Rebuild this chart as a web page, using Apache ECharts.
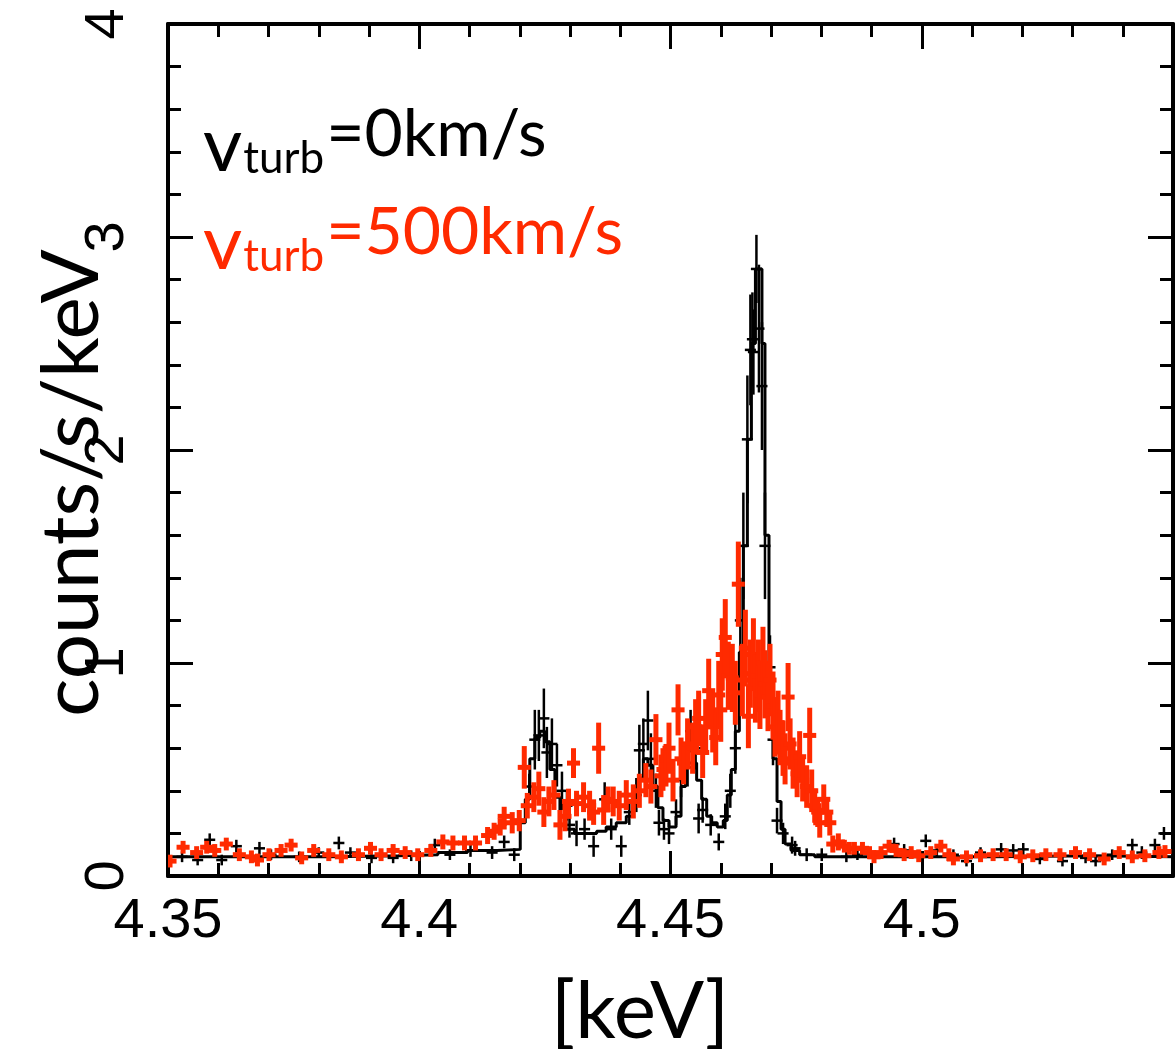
<!DOCTYPE html>
<html>
<head>
<meta charset="utf-8">
<script src="https://cdn.jsdelivr.net/npm/echarts@6/dist/echarts.min.js"></script>
<style>
html,body{margin:0;padding:0;background:#fff;}
#chart{width:1176px;height:1049px;}
</style>
</head>
<body>
<div id="chart"></div>
<script>
// ---- data (energy in keV, counts/s/keV) ----
const xTicks = [4.35, 4.4, 4.45, 4.5];
const yTicks = [0, 1, 2, 3, 4];

// black model (v_turb = 0), step histogram: left bin edges and values
const modelE = [4.3500,4.3662,4.3820,4.3958,4.4037,4.4096,4.4155,4.4201,4.4211,4.4220,4.4230,4.4240,4.4250,4.4260,4.4270,4.4280,4.4292,4.4309,4.4333,4.4353,4.4372,4.4392,4.4412,4.4426,4.4436,4.4446,4.4455,4.4465,4.4475,4.4485,4.4497,4.4511,4.4521,4.4530,4.4542,4.4552,4.4562,4.4572,4.4582,4.4593,4.4605,4.4613,4.4621,4.4629,4.4637,4.4645,4.4653,4.4661,4.4669,4.4676,4.4682,4.4688,4.4696,4.4704,4.4712,4.4720,4.4728,4.4740,4.4757,4.4787,4.4945,4.5142,4.5340,4.5500];
const modelV = [0.09,0.09,0.095,0.10,0.11,0.12,0.125,0.25,0.36,0.55,0.65,0.68,0.63,0.50,0.37,0.28,0.22,0.20,0.20,0.21,0.23,0.25,0.28,0.34,0.46,0.55,0.52,0.42,0.32,0.26,0.23,0.28,0.42,0.53,0.53,0.45,0.36,0.28,0.25,0.23,0.26,0.38,0.50,0.68,1.05,1.55,2.05,2.50,2.85,2.85,2.50,1.60,0.95,0.55,0.35,0.22,0.15,0.12,0.10,0.09,0.09,0.095,0.09,0.09];

// black data points (v_turb = 0)
const blackE = [4.3528,4.3559,4.3583,4.3607,4.3636,4.3682,4.3705,4.3761,4.3800,4.3840,4.3863,4.3905,4.3948,4.3984,4.4031,4.4061,4.4102,4.4145,4.4169,4.4189,4.4219,4.4230,4.4238,4.4248,4.4254,4.4264,4.4274,4.4284,4.4294,4.4299,4.4313,4.4329,4.4347,4.4369,4.4382,4.4402,4.4418,4.4432,4.4438,4.4446,4.4455,4.4461,4.4471,4.4477,4.4487,4.4497,4.4511,4.4521,4.4534,4.4540,4.4550,4.4556,4.4564,4.4580,4.4596,4.4609,4.4619,4.4629,4.4639,4.4645,4.4653,4.4659,4.4663,4.4665,4.4671,4.4676,4.4682,4.4688,4.4698,4.4704,4.4712,4.4724,4.4742,4.4748,4.4771,4.4801,4.4850,4.4872,4.4905,4.4945,4.4965,4.5008,4.5030,4.5063,4.5089,4.5117,4.5158,4.5182,4.5202,4.5235,4.5280,4.5326,4.5346,4.5379,4.5419,4.5438,4.5464,4.5482];
const blackV = [0.09,0.075,0.17,0.075,0.14,0.13,0.10,0.09,0.11,0.155,0.11,0.085,0.085,0.095,0.145,0.10,0.12,0.11,0.16,0.10,0.42,0.64,0.66,0.74,0.58,0.62,0.52,0.40,0.33,0.24,0.20,0.22,0.14,0.36,0.22,0.14,0.30,0.38,0.59,0.62,0.73,0.55,0.40,0.25,0.22,0.20,0.30,0.45,0.51,0.68,0.60,0.27,0.31,0.24,0.16,0.28,0.40,0.60,1.20,1.55,2.05,2.47,2.52,2.46,2.85,2.57,2.30,1.55,0.98,0.64,0.26,0.20,0.145,0.13,0.10,0.10,0.09,0.10,0.09,0.15,0.12,0.165,0.12,0.10,0.07,0.11,0.125,0.12,0.125,0.08,0.07,0.085,0.07,0.10,0.145,0.11,0.145,0.20];
const blackErr = [0.025,0.025,0.03,0.025,0.03,0.03,0.025,0.025,0.025,0.03,0.025,0.025,0.025,0.025,0.03,0.025,0.03,0.03,0.03,0.03,0.06,0.14,0.12,0.14,0.12,0.12,0.10,0.09,0.07,0.06,0.06,0.05,0.05,0.08,0.05,0.05,0.06,0.08,0.12,0.12,0.14,0.12,0.08,0.06,0.05,0.05,0.06,0.08,0.09,0.10,0.10,0.07,0.06,0.05,0.04,0.06,0.08,0.12,0.20,0.25,0.30,0.26,0.22,0.20,0.16,0.30,0.30,0.25,0.15,0.12,0.06,0.05,0.04,0.035,0.03,0.03,0.025,0.025,0.025,0.03,0.03,0.03,0.03,0.025,0.025,0.025,0.03,0.03,0.03,0.025,0.025,0.025,0.025,0.025,0.03,0.03,0.03,0.03];

// red data points (v_turb = 500 km/s)
const redE = [4.3504,4.3530,4.3557,4.3577,4.3593,4.3616,4.3642,4.3666,4.3678,4.3701,4.3725,4.3745,4.3766,4.3790,4.3820,4.3845,4.3879,4.3903,4.3924,4.3948,4.3972,4.3997,4.4023,4.4047,4.4067,4.4090,4.4112,4.4136,4.4149,4.4161,4.4169,4.4185,4.4199,4.4209,4.4215,4.4228,4.4238,4.4248,4.4258,4.4268,4.4280,4.4290,4.4297,4.4307,4.4313,4.4327,4.4339,4.4347,4.4357,4.4367,4.4376,4.4386,4.4398,4.4412,4.4426,4.4438,4.4451,4.4461,4.4471,4.4481,4.4485,4.4491,4.4497,4.4505,4.4515,4.4521,4.4526,4.4534,4.4544,4.4550,4.4556,4.4564,4.4570,4.4576,4.4584,4.4590,4.4596,4.4600,4.4603,4.4609,4.4615,4.4623,4.4629,4.4635,4.4643,4.4649,4.4655,4.4659,4.4665,4.4669,4.4675,4.4678,4.4684,4.4688,4.4694,4.4698,4.4704,4.4708,4.4714,4.4718,4.4724,4.4728,4.4734,4.4738,4.4744,4.4752,4.4757,4.4763,4.4771,4.4777,4.4781,4.4787,4.4793,4.4797,4.4805,4.4811,4.4817,4.4823,4.4834,4.4846,4.4856,4.4866,4.4882,4.4896,4.4905,4.4919,4.4935,4.4949,4.4965,4.4979,4.4994,4.5018,4.5038,4.5054,4.5063,4.5089,4.5117,4.5142,4.5168,4.5196,4.5221,4.5247,4.5275,4.5306,4.5334,4.5363,4.5393,4.5419,4.5444,4.5472,4.5484];
const redV = [0.07,0.135,0.11,0.135,0.12,0.15,0.10,0.09,0.075,0.10,0.12,0.145,0.085,0.12,0.10,0.09,0.10,0.13,0.10,0.12,0.11,0.10,0.12,0.16,0.155,0.155,0.155,0.19,0.21,0.23,0.28,0.25,0.26,0.51,0.33,0.37,0.41,0.30,0.35,0.38,0.24,0.28,0.35,0.53,0.34,0.37,0.33,0.30,0.60,0.31,0.36,0.35,0.33,0.38,0.35,0.40,0.45,0.42,0.64,0.47,0.50,0.52,0.60,0.45,0.78,0.55,0.53,0.62,0.60,0.70,0.74,0.58,0.70,0.87,0.72,0.65,0.85,0.78,1.04,1.12,0.94,0.93,0.86,1.37,0.92,1.07,0.75,0.95,1.04,0.88,0.94,0.85,1.00,0.90,0.84,0.92,0.80,0.70,0.72,0.65,0.60,0.55,0.84,0.62,0.53,0.48,0.56,0.45,0.42,0.66,0.40,0.33,0.30,0.25,0.36,0.30,0.25,0.15,0.16,0.14,0.13,0.13,0.13,0.11,0.09,0.11,0.14,0.12,0.10,0.11,0.095,0.11,0.14,0.10,0.08,0.09,0.095,0.10,0.10,0.09,0.095,0.10,0.10,0.11,0.10,0.08,0.11,0.09,0.095,0.11,0.115];
const redErr = [0.03,0.03,0.03,0.03,0.03,0.03,0.03,0.03,0.03,0.03,0.03,0.03,0.03,0.03,0.03,0.03,0.03,0.03,0.03,0.03,0.03,0.03,0.03,0.035,0.035,0.035,0.035,0.04,0.04,0.04,0.045,0.05,0.05,0.10,0.06,0.07,0.08,0.07,0.07,0.07,0.07,0.07,0.06,0.07,0.06,0.07,0.07,0.06,0.12,0.07,0.06,0.07,0.07,0.07,0.08,0.08,0.08,0.08,0.12,0.10,0.10,0.10,0.12,0.10,0.12,0.10,0.10,0.12,0.12,0.13,0.13,0.12,0.13,0.15,0.14,0.13,0.16,0.15,0.17,0.18,0.16,0.16,0.15,0.20,0.17,0.18,0.15,0.16,0.17,0.16,0.17,0.16,0.17,0.16,0.16,0.17,0.16,0.14,0.15,0.13,0.13,0.12,0.16,0.12,0.12,0.11,0.12,0.10,0.10,0.13,0.10,0.08,0.07,0.07,0.07,0.07,0.06,0.04,0.04,0.03,0.03,0.03,0.03,0.03,0.03,0.03,0.03,0.03,0.03,0.03,0.03,0.03,0.03,0.03,0.03,0.03,0.03,0.03,0.03,0.03,0.03,0.03,0.03,0.03,0.03,0.03,0.03,0.03,0.03,0.03,0.03];

const RED = '#ff2a00';
const BLACK = '#000000';

function zip3(a, b, c) { return a.map((v, i) => [v, b[i], c[i]]); }

function crossRenderer(color, lw, hw) {
  return function (params, api) {
    const e = api.value(0), v = api.value(1), er = api.value(2);
    const c = api.coord([e, v]);
    const l = api.coord([e - hw, v]);
    const r = api.coord([e + hw, v]);
    const t = api.coord([e, v + er]);
    const b = api.coord([e, v - er]);
    return {
      type: 'group',
      children: [
        { type: 'line', shape: { x1: l[0], y1: c[1], x2: r[0], y2: c[1] }, style: { stroke: color, lineWidth: lw } },
        { type: 'line', shape: { x1: c[0], y1: t[1], x2: c[0], y2: b[1] }, style: { stroke: color, lineWidth: lw } }
      ]
    };
  };
}

const chart = echarts.init(document.getElementById('chart'), null, { renderer: 'canvas' });

const tickFont = 'Liberation Sans';
const axisLineStyle = { color: BLACK, width: 4 };
const majorTick = { show: true, inside: true, length: 25, lineStyle: { color: BLACK, width: 3 } };
const minorTick = { show: true, splitNumber: 5, length: 13, lineStyle: { color: BLACK, width: 3 } };

function xAxisCfg(pos, showLabel) {
  return {
    type: 'value', position: pos, min: 4.35, max: 4.55, interval: 0.05,
    axisLine: { show: true, onZero: false, lineStyle: axisLineStyle },
    axisTick: majorTick, minorTick: minorTick,
    splitLine: { show: false }, minorSplitLine: { show: false },
    axisLabel: {
      show: showLabel, color: BLACK, fontFamily: tickFont, fontSize: 56, margin: 18,
      showMinLabel: true, showMaxLabel: true,
      formatter: function (v) {
        for (const t of xTicks) { if (Math.abs(t - v) < 1e-6) return String(t); }
        return '';
      }
    }
  };
}
function yAxisCfg(pos, showLabel) {
  return {
    type: 'value', position: pos, min: 0, max: 4, interval: 1,
    axisLine: { show: true, onZero: false, lineStyle: axisLineStyle },
    axisTick: majorTick, minorTick: minorTick,
    splitLine: { show: false }, minorSplitLine: { show: false },
    axisLabel: {
      show: showLabel, color: BLACK, fontFamily: tickFont, fontSize: 56, margin: 32, rotate: 90,
      showMinLabel: true, showMaxLabel: true,
      formatter: function (v) {
        for (const t of yTicks) { if (Math.abs(t - v) < 1e-6) return String(t); }
        return '';
      }
    }
  };
}

// legend-like annotation text measurements
const mctx = document.createElement('canvas').getContext('2d');
function tw(text, font) { mctx.font = font; return mctx.measureText(text).width; }
const FONT = 'Lato';
const vFont = '76px ' + FONT, subFont = '44px ' + FONT, mainFont = '66px ' + FONT;
function labelGroup(x0, baseY, rest, color) {
  const wv = tw('v', vFont), ws = tw('turb', subFont);
  return [
    { type: 'text', left: x0, top: baseY - 62, style: { text: 'v', font: vFont, fill: color } },
    { type: 'text', left: x0 + wv + 1, top: baseY - 33, style: { text: 'turb', font: subFont, fill: color } },
    { type: 'text', left: x0 + wv + ws + 3, top: baseY - 68, style: { text: rest, font: mainFont, fill: color } }
  ];
}

const option = {
  backgroundColor: '#ffffff',
  animation: false,
  grid: { left: 168, top: 24, width: 1013, height: 852, containLabel: false },
  xAxis: [xAxisCfg('bottom', true), xAxisCfg('top', false)],
  yAxis: [yAxisCfg('left', true), yAxisCfg('right', false)],
  graphic: [
    { type: 'text', x: 72, y: 483, rotation: Math.PI / 2,
      style: { text: 'counts/s/keV', font: '80px ' + FONT, fill: BLACK, align: 'center', verticalAlign: 'middle' } },
    { type: 'text', x: 640, y: 1012,
      style: { text: '[keV]', font: '80px ' + FONT, fill: BLACK, align: 'center', verticalAlign: 'middle' } }
  ].concat(labelGroup(203, 170, '=0km/s', BLACK), labelGroup(203, 268, '=500km/s', RED)),
  series: [
    {
      name: 'model (vturb=0)', type: 'line', step: 'end', xAxisIndex: 0, yAxisIndex: 0,
      data: modelE.map((e, i) => [e, modelV[i]]), showSymbol: false, symbol: 'none',
      lineStyle: { color: BLACK, width: 3 }, z: 2
    },
    {
      name: 'vturb=0km/s', type: 'custom', xAxisIndex: 0, yAxisIndex: 0, clip: true,
      renderItem: crossRenderer(BLACK, 2.5, 0.0011),
      encode: { x: 0, y: 1 }, data: zip3(blackE, blackV, blackErr), z: 3
    },
    {
      name: 'vturb=500km/s', type: 'custom', xAxisIndex: 0, yAxisIndex: 0, clip: true,
      renderItem: crossRenderer(RED, 5, 0.0013),
      encode: { x: 0, y: 1 }, data: zip3(redE, redV, redErr), z: 4
    }
  ]
};
chart.setOption(option);
</script>
</body>
</html>
